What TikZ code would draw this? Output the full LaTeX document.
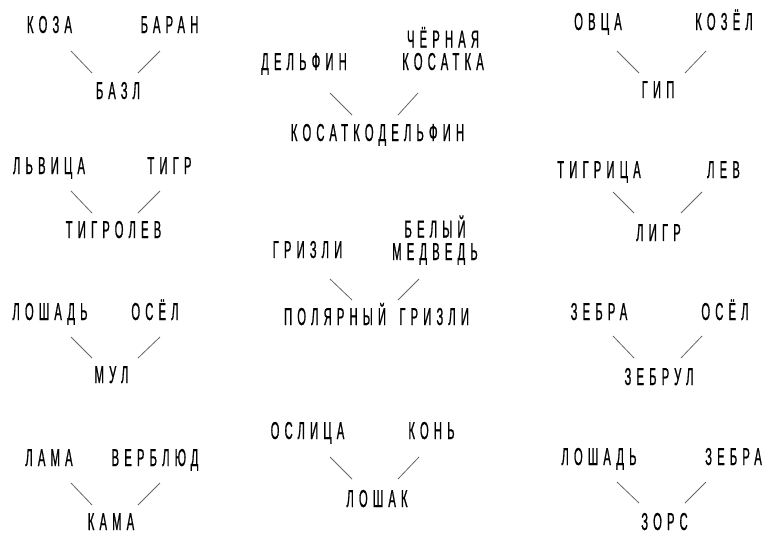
\documentclass[tikz,border=0pt]{standalone}
\usepackage{fontspec}
\setmainfont{Liberation Sans}[FakeStretch=0.46, LetterSpace=21, FakeBold=0.7]
\usetikzlibrary{positioning}

\begin{document}
\begin{tikzpicture}[
  x=1pt, y=-1pt,
  animal/.style={inner sep=0pt, anchor=base, font=\fontsize{24.5}{22.5}\selectfont},
  link/.style={line width=0.8pt, black!60}
]
\useasboundingbox (0,0) rectangle (772,544);

%Left column
\node[animal] (koza)     at (49.5,33)  {КОЗА};
\node[animal] (baran)    at (169.5,33) {БАРАН};
\node[animal] (bazl)     at (118,99)   {БАЗЛ};

\node[animal] (lvica)    at (49,174)    {ЛЬВИЦА};
\node[animal] (tigr)     at (169.5,174) {ТИГР};
\node[animal] (tigrolev) at (113.5,238) {ТИГРОЛЕВ};

\node[animal] (loshad)   at (50,320)    {ЛОШАДЬ};
\node[animal] (osel)     at (155,320)   {ОСЁЛ};
\node[animal] (mul)      at (111.5,383) {МУЛ};

\node[animal] (lama)     at (49,466)  {ЛАМА};
\node[animal] (verblyud) at (155,466) {ВЕРБЛЮД};
\node[animal] (kama)     at (111,530) {КАМА};

%Middle column
\node[animal] (delfin)   at (304,70) {ДЕЛЬФИН};
\node[animal, align=center] (kosatka) at (443,70) {ЧЁРНАЯ\\КОСАТКА};
\node[animal] (kosdelfin) at (377.5,141) {КОСАТКОДЕЛЬФИН};

\node[animal] (grizli)   at (307.5,258) {ГРИЗЛИ};
\node[animal, align=center] (medved) at (435,260) {БЕЛЫЙ\\МЕДВЕДЬ};
\node[animal] (polgrizli) at (376.5,325) {ПОЛЯРНЫЙ\hspace{5pt} ГРИЗЛИ};

\node[animal] (oslica)   at (307.5,439) {ОСЛИЦА};
\node[animal] (kon)      at (431.5,439) {КОНЬ};
\node[animal] (loshak)   at (377,507)   {ЛОШАК};

%Right column
\node[animal] (ovca)     at (598,30)  {ОВЦА};
\node[animal] (kozel)    at (724,30)  {КОЗЁЛ};
\node[animal] (gip)      at (658,98)  {ГИП};

\node[animal] (tigrica)  at (599,178)   {ТИГРИЦА};
\node[animal] (lev)      at (723.5,178) {ЛЕВ};
\node[animal] (ligr)     at (658.5,241) {ЛИГР};

\node[animal] (zebra)    at (599,320) {ЗЕБРА};
\node[animal] (osel2)    at (725,320) {ОСЁЛ};
\node[animal] (zebrul)   at (659,385) {ЗЕБРУЛ};

\node[animal] (loshad2)  at (599,465)   {ЛОШАДЬ};
\node[animal] (zebra2)   at (733.5,465) {ЗЕБРА};
\node[animal] (zors)     at (664.5,530) {ЗОРС};

%Lines
\draw[link] ([shift={(21.5,18)}]koza.base)  -- ([shift={(-26,-26)}]bazl.base);
\draw[link] ([shift={(-9.5,18)}]baran.base) -- ([shift={(20,-26)}]bazl.base);

\draw[link] ([shift={(22,17)}]lvica.base)  -- ([shift={(-21.5,-25)}]tigrolev.base);
\draw[link] ([shift={(-9.5,17)}]tigr.base) -- ([shift={(24.5,-25)}]tigrolev.base);

\draw[link] ([shift={(21,17)}]loshad.base) -- ([shift={(-19.5,-25)}]mul.base);
\draw[link] ([shift={(5,17)}]osel.base)    -- ([shift={(26.5,-25)}]mul.base);

\draw[link] ([shift={(22,17)}]lama.base)    -- ([shift={(-19,-25)}]kama.base);
\draw[link] ([shift={(5,17)}]verblyud.base) -- ([shift={(27,-25)}]kama.base);

\draw[link] ([shift={(26,23)}]delfin.base)   -- ([shift={(-25.5,-26)}]kosdelfin.base);
\draw[link] ([shift={(-25,23)}]kosatka.base) -- ([shift={(20.5,-26)}]kosdelfin.base);

\draw[link] ([shift={(22.5,21)}]grizli.base) -- ([shift={(-24.5,-25)}]polgrizli.base);
\draw[link] ([shift={(-16,19)}]medved.base)  -- ([shift={(21.5,-25)}]polgrizli.base);

\draw[link] ([shift={(22.5,18)}]oslica.base) -- ([shift={(-25,-28)}]loshak.base);
\draw[link] ([shift={(-12.5,18)}]kon.base)   -- ([shift={(21,-28)}]loshak.base);

\draw[link] ([shift={(19,21)}]ovca.base)   -- ([shift={(-19,-25)}]gip.base);
\draw[link] ([shift={(-18,21)}]kozel.base) -- ([shift={(27,-25)}]gip.base);

\draw[link] ([shift={(14,14)}]tigrica.base) -- ([shift={(-24.5,-28)}]ligr.base);
\draw[link] ([shift={(-21.5,14)}]lev.base)  -- ([shift={(22.5,-28)}]ligr.base);

\draw[link] ([shift={(14,16)}]zebra.base)  -- ([shift={(-25,-27)}]zebrul.base);
\draw[link] ([shift={(-23,16)}]osel2.base) -- ([shift={(22,-27)}]zebrul.base);

\draw[link] ([shift={(18,17)}]loshad2.base)  -- ([shift={(-25.5,-27)}]zors.base);
\draw[link] ([shift={(-27.5,17)}]zebra2.base) -- ([shift={(20.5,-27)}]zors.base);

\end{tikzpicture}
\end{document}
